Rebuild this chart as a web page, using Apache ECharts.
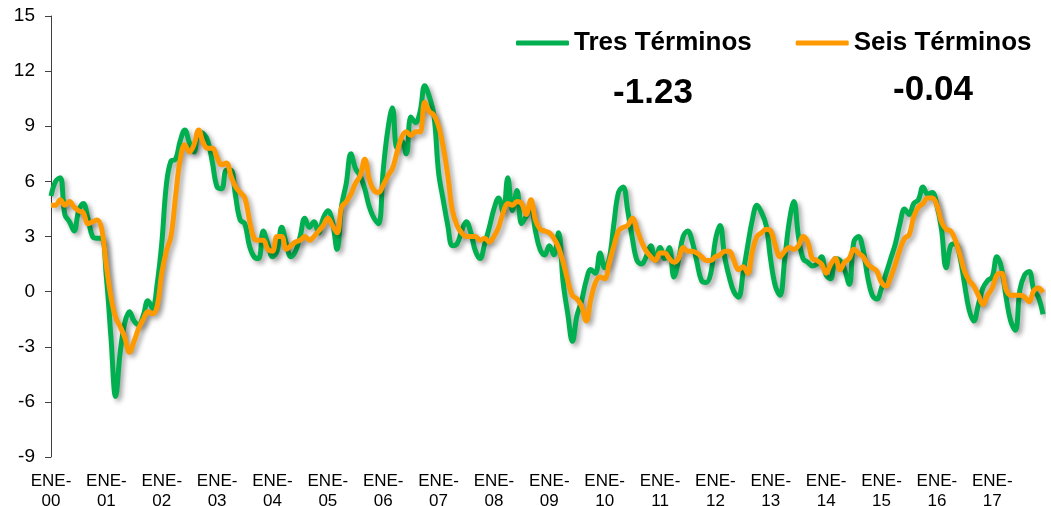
<!DOCTYPE html>
<html>
<head>
<meta charset="utf-8">
<script src="https://cdn.jsdelivr.net/npm/echarts@6/dist/echarts.min.js"></script>
<style>
  html, body { margin: 0; padding: 0; background: #fff; }
  #chart { width: 1051px; height: 506px; }
</style>
</head>
<body>
<div id="chart"></div>
<script>
// meses y años del eje
const meses = ['ENE', 'FEB', 'MAR', 'ABR', 'MAY', 'JUN', 'JUL', 'AGO', 'SEP', 'OCT', 'NOV', 'DIC'];
const anios = ['00', '01', '02', '03', '04', '05', '06', '07', '08', '09', '10', '11', '12', '13', '14', '15', '16', '17'];

const yTicks = { min: -9, max: 15, interval: 3 };

// Tres Términos (verde), ene-00 .. dic-17
const tresTerminos = [
  5.2, 6.0, 6.2, 4.2, 3.8, 3.3, 4.4, 4.8, 4.0, 3.0, 2.9, 2.9,
  0.8, -2.5, -5.7, -3.3, -1.7, -1.1, -1.6, -1.8, -1.3, -0.5, -0.9, 0.4,
  2.6, 5.8, 7.1, 7.2, 8.2, 8.8, 8.1, 7.6, 8.7, 8.6, 8.2, 7.0,
  5.7, 5.6, 6.6, 6.6, 5.2, 3.9, 3.7, 2.5, 1.9, 1.8, 3.3, 2.6,
  1.9, 2.2, 3.5, 2.6, 1.9, 2.2, 3.0, 4.0, 3.5, 3.8, 3.2, 4.0,
  4.4, 3.8, 2.3, 4.7, 5.9, 7.5, 6.7, 6.3, 5.6, 4.6, 4.0, 3.7,
  6.6, 8.8, 10.0, 7.8, 8.2, 7.5, 9.5, 9.2, 9.8, 11.2, 10.6, 9.6,
  6.5, 5.0, 3.6, 2.5, 2.6, 3.3, 3.8, 3.2, 2.2, 1.8, 2.6, 3.5,
  4.5, 5.1, 4.3, 6.2, 4.4, 5.5, 3.7, 4.1, 4.6, 3.3, 2.3, 2.0,
  2.5, 2.0, 3.2, 0.5, -1.2, -2.7, -1.3, -0.5, 0.6, 1.2, 1.0, 2.1,
  1.3, 1.8, 3.7, 5.4, 5.7, 4.4, 2.9, 1.7, 1.5, 1.9, 2.5, 1.7,
  2.4, 1.8, 2.4, 0.8, 1.7, 3.0, 3.3, 2.7, 1.6, 0.6, 0.5, 1.0,
  2.8, 3.6, 1.9, 0.8, 0.0, -0.3, 1.0, 2.5, 3.9, 4.7, 4.3, 3.6,
  1.7, 0.3, -0.2, 1.7, 3.8, 4.9, 3.0, 1.8, 1.6, 1.4, 1.5, 1.9,
  0.9, 0.7, 1.8, 1.7, 1.2, 0.4, 2.7, 3.0, 2.3, 0.8, -0.2, -0.4,
  0.2, 1.0, 1.8, 2.6, 3.7, 4.5, 4.2, 4.8, 5.0, 5.7, 5.3, 5.4,
  4.7, 3.4, 1.3, 2.5, 2.6, 1.9, 0.4, -1.0, -1.6, -0.7, 0.2, 0.6,
  0.8, 1.9, 1.3, -0.3, -1.6, -2.1, 0.1, 0.9, 1.1, 0.1, -0.3, -1.23
];

// Seis Términos (naranja)
const seisTerminos = [
  4.7, 4.7, 5.0, 4.7, 4.9, 4.6, 4.4, 4.3, 3.7, 3.8, 3.9, 3.4,
  1.4, -0.3, -1.4, -1.9, -2.5, -3.3, -2.7, -2.0, -1.5, -1.1, -1.2, -0.8,
  1.0, 2.2, 3.0, 5.2, 7.2, 8.0, 7.6, 8.0, 8.8, 8.1, 7.8, 7.8,
  7.3, 6.9, 7.0, 6.3, 5.7, 5.4, 5.1, 3.9, 2.9, 2.8, 2.8, 2.3,
  2.2, 3.0, 3.0, 2.3, 2.5, 2.7, 2.8, 3.0, 2.8, 3.0, 3.3, 3.6,
  4.0, 3.6, 3.2, 4.6, 4.9, 5.3, 5.9, 6.3, 7.2, 6.1, 5.5, 5.4,
  5.8, 6.3, 6.7, 7.6, 8.4, 8.7, 8.5, 8.7, 8.7, 10.3, 9.8, 9.6,
  9.0, 7.9, 6.3, 4.4, 3.6, 3.2, 3.0, 3.0, 3.0, 2.8, 2.9, 2.7,
  3.0, 3.5, 4.3, 4.8, 4.7, 4.9, 4.8, 4.2, 5.0, 3.9, 3.4, 3.3,
  3.2, 2.9, 2.4, 1.6, 0.6, -0.2, -0.4, -0.8, -1.6, -0.4, 0.5, 0.8,
  0.7, 1.6, 2.5, 3.3, 3.5, 3.6, 4.0, 3.4, 2.7, 2.2, 1.9, 1.7,
  2.1, 2.1, 1.8, 1.6, 1.8, 2.4, 2.2, 2.2, 2.1, 1.9, 1.7, 1.7,
  1.9, 2.0, 2.2, 2.2, 1.7, 1.2, 1.35, 1.0, 2.2, 3.0, 3.2, 3.4,
  3.3, 2.5, 1.9, 2.2, 2.4, 2.3, 2.5, 3.0, 2.7, 1.8, 1.7, 1.5,
  1.0, 1.5, 1.8, 1.2, 1.6, 1.8, 2.3, 2.1, 1.9, 1.5, 1.3, 1.1,
  0.5, 0.3, 0.8, 1.5, 2.3, 2.9, 3.1, 4.1, 4.6, 4.8, 5.1, 5.1,
  4.7, 3.8, 3.4, 3.3, 2.8, 2.0, 1.1, 0.6, 0.3, -0.2, -0.7, -0.2,
  0.2, 0.9, 1.0, 0.1, -0.2, -0.2, -0.2, -0.3, -0.55, 0.05, 0.2, -0.04
];

const categorias = [];
anios.forEach(a => meses.forEach(m => categorias.push(m + '-' + a)));

const VERDE = '#00B050';
const NARANJA = '#FF9900';
const fuente = 'Arial, "Liberation Sans", sans-serif';

const sombra = {
  shadowColor: 'rgba(0, 0, 0, 0.35)',
  shadowBlur: 5,
  shadowOffsetX: 3,
  shadowOffsetY: 3,
};

const chart = echarts.init(document.getElementById('chart'));

chart.setOption({
  backgroundColor: '#ffffff',
  animation: false,
  grid: { left: 51, right: 8, top: 16, bottom: 49, containLabel: false, outerBoundsMode: 'none' },
  legend: {
    left: 511,
    top: 25,
    icon: 'roundRect',
    itemWidth: 53,
    itemHeight: 5,
    itemGap: 44,
    textStyle: { fontFamily: fuente, fontSize: 26, fontWeight: 'bold', color: '#000' },
    data: ['Tres Términos', 'Seis Términos'],
  },
  graphic: [
    {
      type: 'text', x: 653, y: 93,
      style: {
        text: tresTerminos[tresTerminos.length - 1].toFixed(2),
        font: 'bold 35px ' + fuente, fill: '#000',
        align: 'center', verticalAlign: 'middle', textAlign: 'center', textVerticalAlign: 'middle',
      },
    },
    {
      type: 'text', x: 933, y: 90,
      style: {
        text: seisTerminos[seisTerminos.length - 1].toFixed(2),
        font: 'bold 35px ' + fuente, fill: '#000',
        align: 'center', verticalAlign: 'middle', textAlign: 'center', textVerticalAlign: 'middle',
      },
    },
  ],
  xAxis: {
    type: 'category',
    data: categorias,
    boundaryGap: false,
    axisLine: { show: false },
    axisTick: { show: false },
    splitLine: { show: false },
    axisLabel: {
      interval: 11,
      margin: 14,
      fontFamily: fuente,
      fontSize: 17,
      lineHeight: 20,
      color: '#000',
      formatter: (v) => v.replace('-', '-\n'),
    },
  },
  yAxis: {
    type: 'value',
    min: yTicks.min,
    max: yTicks.max,
    interval: yTicks.interval,
    axisLine: { show: true, lineStyle: { color: '#404040', width: 1 } },
    axisTick: { show: true, inside: false, length: 6, lineStyle: { color: '#404040' } },
    splitLine: { show: false },
    axisLabel: { margin: 16, fontFamily: fuente, fontSize: 19, color: '#000' },
  },
  series: [
    {
      name: 'Tres Términos',
      type: 'line',
      data: tresTerminos,
      smooth: 0.4,
      symbol: 'none',
      color: VERDE,
      lineStyle: Object.assign({ width: 5, color: VERDE }, sombra),
    },
    {
      name: 'Seis Términos',
      type: 'line',
      data: seisTerminos,
      smooth: 0.4,
      symbol: 'none',
      color: NARANJA,
      lineStyle: Object.assign({ width: 5, color: NARANJA }, sombra),
    },
  ],
});
</script>
</body>
</html>
